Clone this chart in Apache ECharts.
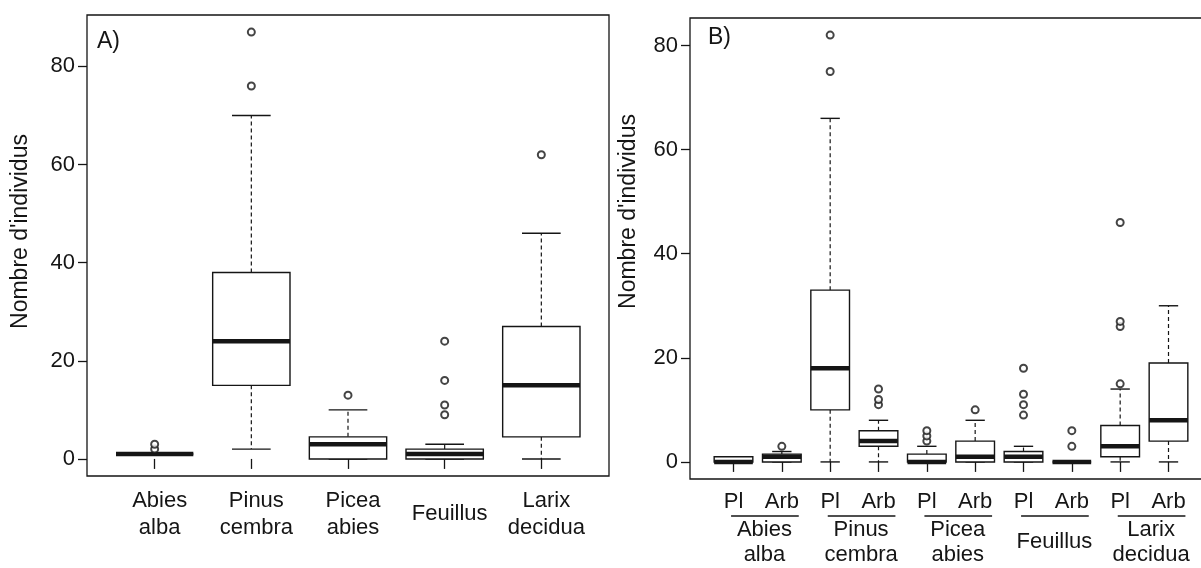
<!DOCTYPE html>
<html>
<head>
<meta charset="utf-8">
<script src="https://cdn.jsdelivr.net/npm/echarts@6/dist/echarts.min.js"></script>
<style>
  html, body { margin: 0; padding: 0; background: #fff; }
  #chart { width: 1201px; height: 568px; }
</style>
</head>
<body>
<div id="chart"></div>
<script>
// Panel A: one box per taxon
const speciesA = ['Abies\nalba', 'Pinus\ncembra', 'Picea\nabies', 'Feuillus', 'Larix\ndecidua'];
// [low whisker, Q1, median, Q3, high whisker]
const boxesA = [
  [1, 1, 1, 1, 1],
  [2, 15, 24, 38, 70],
  [0, 0, 3, 4.5, 10],
  [0, 0, 1, 2, 3],
  [0, 4.5, 15, 27, 46]
];
const outliersA = [[2, 3], [76, 87], [13], [9, 11, 16, 24], [62]];

// Panel B: Pl / Arb per taxon
const stagesB = ['Pl', 'Arb'];
const groupsB = ['Abies\nalba', 'Pinus\ncembra', 'Picea\nabies', 'Feuillus', 'Larix\ndecidua'];
const boxesB = [
  [0, 0, 0, 1, 1],
  [0, 0, 1, 1.5, 2],
  [0, 10, 18, 33, 66],
  [0, 3, 4, 6, 8],
  [0, 0, 0, 1.5, 3],
  [0, 0, 1, 4, 8],
  [0, 0, 1, 2, 3],
  [0, 0, 0, 0, 0],
  [0, 1, 3, 7, 14],
  [0, 4, 8, 19, 30]
];
const outliersB = [[], [3], [75, 82], [11, 12, 14], [4, 5, 6], [10], [9, 11, 13, 18], [3, 6], [15, 26, 27, 46], []];

const yTicks = [0, 20, 40, 60, 80];

const INK = '#151515';
const FONT = "'Liberation Sans', Arial, sans-serif";
const BOX_WEX = 0.8;
const Y_MIN_A = -3.48, Y_MAX_A = 90.48;
const Y_MIN_B = -3.28, Y_MAX_B = 85.28;

const boxRows = boxes => boxes.map((b, i) => [i + 1].concat(b));
const outlierRows = outs => {
  const rows = [];
  outs.forEach((vals, i) => vals.forEach(v => rows.push([i + 1, v])));
  return rows;
};

function renderBox(params, api) {
  const x = api.value(0);
  const half = api.size([BOX_WEX, 0])[0] / 2;
  const cap = half / 2;
  const cx = api.coord([x, 0])[0];
  const yLow = api.coord([x, api.value(1)])[1];
  const yQ1 = api.coord([x, api.value(2)])[1];
  const yMed = api.coord([x, api.value(3)])[1];
  const yQ3 = api.coord([x, api.value(4)])[1];
  const yHigh = api.coord([x, api.value(5)])[1];
  const dash = { stroke: INK, lineWidth: 1.2, lineDash: [4, 3] };
  const solid = { stroke: INK, lineWidth: 1.4 };
  return {
    type: 'group',
    children: [
      { type: 'line', shape: { x1: cx, y1: yQ3, x2: cx, y2: yHigh }, style: dash },
      { type: 'line', shape: { x1: cx, y1: yQ1, x2: cx, y2: yLow }, style: dash },
      { type: 'line', shape: { x1: cx - cap, y1: yHigh, x2: cx + cap, y2: yHigh }, style: solid },
      { type: 'line', shape: { x1: cx - cap, y1: yLow, x2: cx + cap, y2: yLow }, style: solid },
      { type: 'rect', shape: { x: cx - half, y: yQ3, width: half * 2, height: yQ1 - yQ3 },
        style: { fill: '#fff', stroke: INK, lineWidth: 1.4 } },
      { type: 'line', shape: { x1: cx - half, y1: yMed, x2: cx + half, y2: yMed },
        style: { stroke: INK, lineWidth: 4.5 } }
    ]
  };
}

// line under each Pl/Arb pair
function renderUnderline(params, api) {
  const i = api.value(0);
  const xc = 2 * i + 1.65;
  const a = api.coord([xc - 0.7, Y_MIN_B]);
  const b = api.coord([xc + 0.7, Y_MIN_B]);
  return {
    type: 'line',
    shape: { x1: a[0], y1: a[1] + 37, x2: b[0], y2: b[1] + 37 },
    style: { stroke: INK, lineWidth: 1.4 }
  };
}

const yAxisCommon = {
  type: 'value',
  name: "Nombre d'individus",
  nameLocation: 'middle',
  nameGap: 55,
  splitLine: { show: false },
  axisLine: { show: false },
  axisTick: { show: true, length: 9, customValues: yTicks, lineStyle: { color: INK, width: 1.3 } },
  axisLabel: { customValues: yTicks, margin: 12, fontFamily: FONT, fontSize: 22, color: INK }
};

const xAxisCommon = {
  type: 'value',
  position: 'bottom',
  splitLine: { show: false },
  axisLine: { show: false },
  axisTick: { show: true, length: 10, lineStyle: { color: INK, width: 1.3 } },
  axisLabel: { fontFamily: FONT, fontSize: 22, color: INK, verticalAlign: 'middle', lineHeight: 27 }
};

const chart = echarts.init(document.getElementById('chart'));
chart.setOption({
  backgroundColor: '#fff',
  animation: false,
  title: [
    { text: 'A)', left: 97, top: 30, padding: 0, textStyle: { fontFamily: FONT, fontSize: 23, fontWeight: 'normal', color: INK } },
    { text: 'B)', left: 708, top: 26, padding: 0, textStyle: { fontFamily: FONT, fontSize: 23, fontWeight: 'normal', color: INK } }
  ],
  grid: [
    { left: 87, top: 15, width: 522, height: 461, show: true, borderColor: INK, borderWidth: 1.3, backgroundColor: 'transparent', outerBoundsMode: 'none' },
    { left: 690, top: 18, width: 522, height: 461, show: true, borderColor: INK, borderWidth: 1.3, backgroundColor: 'transparent', outerBoundsMode: 'none' }
  ],
  xAxis: [
    Object.assign({}, xAxisCommon, {
      gridIndex: 0, min: 0.3, max: 5.7,
      axisTick: Object.assign({}, xAxisCommon.axisTick, { customValues: [1, 2, 3, 4, 5] }),
      axisLabel: Object.assign({}, xAxisCommon.axisLabel, {
        customValues: [1, 2, 3, 4, 5], margin: 38, padding: [0, 0, 0, 10],
        formatter: v => speciesA[Math.round(v) - 1]
      })
    }),
    Object.assign({}, xAxisCommon, {
      gridIndex: 1, min: 0.1, max: 10.9,
      axisTick: Object.assign({}, xAxisCommon.axisTick, { customValues: [1, 2, 3, 4, 5, 6, 7, 8, 9, 10] }),
      axisLabel: Object.assign({}, xAxisCommon.axisLabel, {
        customValues: [1, 2, 3, 4, 5, 6, 7, 8, 9, 10], margin: 23,
        formatter: v => stagesB[(Math.round(v) - 1) % 2]
      })
    }),
    Object.assign({}, xAxisCommon, {
      gridIndex: 1, min: 0.1, max: 10.9,
      axisTick: { show: false },
      axisLabel: Object.assign({}, xAxisCommon.axisLabel, {
        customValues: [1.64, 3.64, 5.64, 7.64, 9.64], margin: 63, lineHeight: 25,
        formatter: v => groupsB[Math.round((v - 1.64) / 2)]
      })
    })
  ],
  yAxis: [
    Object.assign({}, yAxisCommon, {
      gridIndex: 0, min: Y_MIN_A, max: Y_MAX_A,
      nameTextStyle: { fontFamily: FONT, fontSize: 23, color: INK, padding: [0, 0, 0, 28] }
    }),
    Object.assign({}, yAxisCommon, {
      gridIndex: 1, min: Y_MIN_B, max: Y_MAX_B, nameGap: 50,
      nameTextStyle: { fontFamily: FONT, fontSize: 23, color: INK, padding: [0, 0, 0, 74] }
    })
  ],
  series: [
    {
      type: 'custom', xAxisIndex: 0, yAxisIndex: 0, clip: false,
      renderItem: renderBox, encode: { x: 0, y: [1, 2, 3, 4, 5] },
      data: boxRows(boxesA)
    },
    {
      type: 'scatter', xAxisIndex: 0, yAxisIndex: 0,
      symbol: 'emptyCircle', symbolSize: 7,
      itemStyle: { color: INK, borderWidth: 1.2 },
      data: outlierRows(outliersA)
    },
    {
      type: 'custom', xAxisIndex: 1, yAxisIndex: 1, clip: false,
      renderItem: renderBox, encode: { x: 0, y: [1, 2, 3, 4, 5] },
      data: boxRows(boxesB)
    },
    {
      type: 'scatter', xAxisIndex: 1, yAxisIndex: 1,
      symbol: 'emptyCircle', symbolSize: 7,
      itemStyle: { color: INK, borderWidth: 1.2 },
      data: outlierRows(outliersB)
    },
    {
      type: 'custom', xAxisIndex: 1, yAxisIndex: 1, clip: false,
      renderItem: renderUnderline, encode: { x: 0 },
      data: groupsB.map((g, i) => [i])
    }
  ]
});
</script>
</body>
</html>
